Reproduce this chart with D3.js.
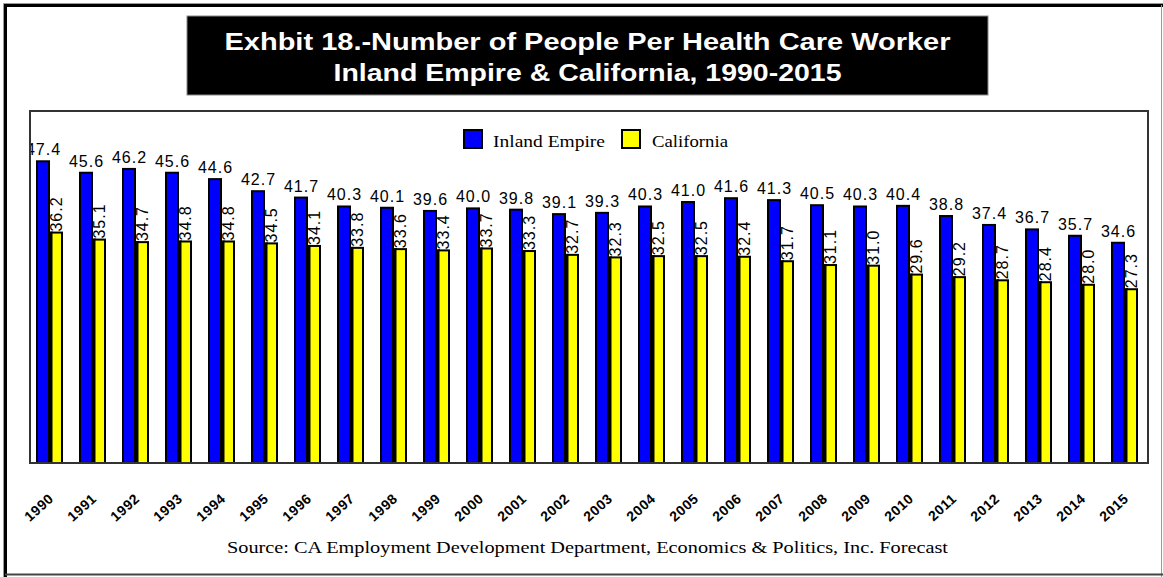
<!DOCTYPE html>
<html>
<head>
<meta charset="utf-8">
<script src="https://cdn.jsdelivr.net/npm/d3@7"></script>
<style>
  html, body { margin: 0; padding: 0; background: #fff; }
  svg { display: block; }
</style>
</head>
<body>
<svg id="chart" width="1163" height="577"></svg>
<script>
// Number of people per health care worker, 1990-2015
const years = ["1990","1991","1992","1993","1994","1995","1996","1997","1998","1999",
  "2000","2001","2002","2003","2004","2005","2006","2007","2008","2009",
  "2010","2011","2012","2013","2014","2015"];
const inlandEmpire = [47.4, 45.6, 46.2, 45.6, 44.6, 42.7, 41.7, 40.3, 40.1, 39.6,
  40.0, 39.8, 39.1, 39.3, 40.3, 41.0, 41.6, 41.3, 40.5, 40.3,
  40.4, 38.8, 37.4, 36.7, 35.7, 34.6];
const california = [36.2, 35.1, 34.7, 34.8, 34.8, 34.5, 34.1, 33.8, 33.6, 33.4,
  33.7, 33.3, 32.7, 32.3, 32.5, 32.5, 32.4, 31.7, 31.1, 31.0,
  29.6, 29.2, 28.7, 28.4, 28.0, 27.3];
const seriesNames = ["Inland Empire", "California"];
const titleLines = ["Exhbit 18.-Number of People Per Health Care Worker",
  "Inland Empire & California, 1990-2015"];
const sourceNote = "Source: CA Employment Development Department,  Economics & Politics, Inc. Forecast";

const BLUE = "#0000ff", YELLOW = "#ffff00";
const svg = d3.select("#chart");

// outer frame
svg.append("rect").attr("x", 0).attr("y", 0).attr("width", 1163).attr("height", 577).attr("fill", "#fff");
svg.append("path").attr("d", "M3.5,577 V3.5 H1163").attr("fill", "none").attr("stroke", "#999").attr("stroke-width", 1);
svg.append("path").attr("d", "M5.5,577 V5.5 H1163").attr("fill", "none").attr("stroke", "#000").attr("stroke-width", 3);
svg.append("line").attr("x1", 1161.5).attr("x2", 1161.5).attr("y1", 5).attr("y2", 577).attr("stroke", "#999").attr("stroke-width", 1);
svg.append("line").attr("x1", 5).attr("x2", 1163).attr("y1", 574.5).attr("y2", 574.5).attr("stroke", "#444").attr("stroke-width", 2);

// title block
svg.append("rect").attr("x", 187).attr("y", 16).attr("width", 801).attr("height", 79)
  .attr("fill", "#000").attr("stroke", "#888").attr("stroke-width", 1);
svg.selectAll("text.title").data(titleLines).join("text")
  .attr("class", "title")
  .attr("x", 587.5)
  .attr("y", (d, i) => 50 + i * 31)
  .attr("text-anchor", "middle")
  .attr("fill", "#fff")
  .attr("font-family", "'Liberation Sans', Arial, sans-serif")
  .attr("font-weight", "bold")
  .attr("font-size", 24)
  .attr("textLength", (d, i) => i === 0 ? 726 : 508)
  .attr("lengthAdjust", "spacingAndGlyphs")
  .text(d => d);

// plot area
const plot = { left: 30, right: 1148, top: 111, bottom: 463 };
const x = d3.scaleBand().domain(years).range([plot.left, plot.right]).paddingInner(0).paddingOuter(0);
const y = d3.scaleLinear().domain([0, 55.3]).range([plot.bottom, plot.top]);

svg.append("defs").append("clipPath").attr("id", "plotClip")
  .append("rect").attr("x", plot.left + 1).attr("y", plot.top).attr("width", plot.right - plot.left).attr("height", plot.bottom - plot.top);

const g = svg.append("g").attr("clip-path", "url(#plotClip)");
const rows = years.map((yr, i) => ({ yr, ie: inlandEmpire[i], ca: california[i] }));

// Inland Empire bars
g.selectAll("rect.ie").data(rows).join("rect")
  .attr("class", "ie")
  .attr("x", d => x(d.yr) + 7)
  .attr("y", d => y(d.ie))
  .attr("width", 12)
  .attr("height", d => y(0) - y(d.ie))
  .attr("fill", BLUE).attr("stroke", "#000").attr("stroke-width", 2);

// California bars, with a dark edge against the blue bar
g.selectAll("rect.caEdge").data(rows).join("rect")
  .attr("class", "caEdge")
  .attr("x", d => x(d.yr) + 18)
  .attr("y", d => y(d.ca) - 1)
  .attr("width", 5)
  .attr("height", d => y(0) - y(d.ca) + 1)
  .attr("fill", "#000");
g.selectAll("rect.ca").data(rows).join("rect")
  .attr("class", "ca")
  .attr("x", d => x(d.yr) + 21.5)
  .attr("y", d => y(d.ca))
  .attr("width", 10.5)
  .attr("height", d => y(0) - y(d.ca))
  .attr("fill", YELLOW).attr("stroke", "#000").attr("stroke-width", 2);

const labelFont = "'Liberation Sans', Arial, sans-serif";
// value labels
g.selectAll("text.ieLab").data(rows).join("text")
  .attr("class", "ieLab")
  .attr("x", d => x(d.yr) + 13.5)
  .attr("y", d => y(d.ie) - 6)
  .attr("text-anchor", "middle")
  .attr("font-family", labelFont).attr("font-size", 16)
  .attr("letter-spacing", 1)
  .attr("fill", "#000")
  .text(d => d.ie.toFixed(1));

g.selectAll("text.caLab").data(rows).join("text")
  .attr("class", "caLab")
  .attr("transform", d => `translate(${x(d.yr) + 32},${y(d.ca) - 1}) rotate(-90)`)
  .attr("text-anchor", "start")
  .attr("font-family", labelFont).attr("font-size", 16)
  .attr("letter-spacing", 1)
  .attr("fill", "#000")
  .text(d => d.ca.toFixed(1));

// plot border
svg.append("rect").attr("x", plot.left).attr("y", plot.top)
  .attr("width", plot.right - plot.left).attr("height", plot.bottom - plot.top)
  .attr("fill", "none").attr("stroke", "#333").attr("stroke-width", 2);

// year axis
const xAxis = svg.append("g").attr("transform", `translate(0,${plot.bottom})`)
  .call(d3.axisBottom(x).tickSize(0).tickPadding(0));
xAxis.select(".domain").remove();
xAxis.selectAll("text")
  .attr("font-family", labelFont).attr("font-size", 14)
  .attr("font-weight", "bold")
  .attr("letter-spacing", 0.5)
  .attr("fill", "#000")
  .attr("text-anchor", "end")
  .attr("dy", 0).attr("y", 0)
  .attr("transform", `translate(3,37) rotate(-42)`);

// legend
const legend = svg.append("g");
const legendItems = [
  { name: seriesNames[0], color: BLUE, x: 464, tx: 493, len: 112 },
  { name: seriesNames[1], color: YELLOW, x: 622, tx: 652, len: 76 }
];
legend.selectAll("rect").data(legendItems).join("rect")
  .attr("x", d => d.x).attr("y", 130).attr("width", 18).attr("height", 18)
  .attr("fill", d => d.color).attr("stroke", "#000").attr("stroke-width", 2);
legend.selectAll("text").data(legendItems).join("text")
  .attr("x", d => d.tx).attr("y", 147)
  .attr("font-family", "'Liberation Serif', 'Times New Roman', serif").attr("font-size", 17)
  .attr("textLength", d => d.len).attr("lengthAdjust", "spacingAndGlyphs")
  .attr("fill", "#000")
  .text(d => d.name);

// source note
svg.append("text")
  .attr("x", 227).attr("y", 553)
  .attr("font-family", "'Liberation Serif', 'Times New Roman', serif").attr("font-size", 17)
  .attr("textLength", 721).attr("lengthAdjust", "spacingAndGlyphs")
  .attr("fill", "#000")
  .text(sourceNote);
</script>
</body>
</html>
